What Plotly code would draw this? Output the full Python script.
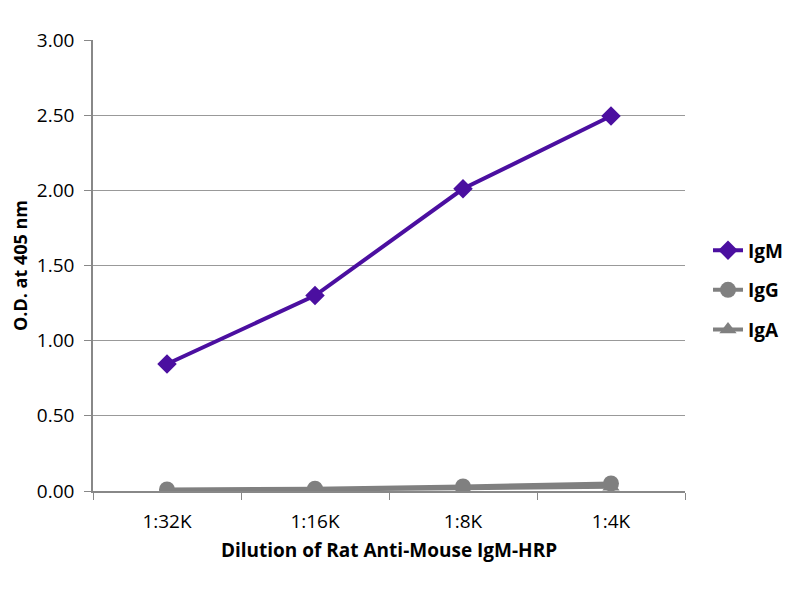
import plotly.graph_objects as go

# dilution categories and O.D. readings
dilutions = ["1:32K", "1:16K", "1:8K", "1:4K"]
igm = [0.845, 1.30, 2.01, 2.495]
igg = [0.01, 0.015, 0.03, 0.05]
iga = [0.002, 0.008, 0.018, 0.028]

purple = "#4b0fa0"
grey = "#808080"

fig = go.Figure()
fig.add_trace(go.Scatter(x=dilutions, y=igm, name="IgM", mode="lines+markers", legendgroup="m",
                         line=dict(color=purple, width=4),
                         marker=dict(symbol="diamond", size=15, color=purple)))
fig.add_trace(go.Scatter(x=dilutions, y=igg, name="IgG", mode="lines+markers", legendgroup="g",
                         line=dict(color=grey, width=4),
                         marker=dict(symbol="circle", size=16, color=grey)))
fig.add_trace(go.Scatter(x=dilutions, y=iga, name="IgA", mode="lines+markers", legendgroup="a",
                         line=dict(color=grey, width=4),
                         marker=dict(symbol="triangle-up", size=15, color=grey)))

# page body adds ~8px offset, so margins are shifted
fig.update_layout(
    width=800, height=600,
    paper_bgcolor="white", plot_bgcolor="white",
    margin=dict(l=85, r=123, t=32, b=117, autoexpand=False),
    font=dict(family="Open Sans", color="black", size=19),
    legend=dict(xref="container", x=0.875, y=0.445, xanchor="left", yanchor="middle",
                font=dict(size=19, family="Open Sans", weight="bold"),
                tracegroupgap=12, itemwidth=30),
    showlegend=True,
)
fig.update_xaxes(
    type="category", range=[-0.5, 3.5], showline=True, linecolor="#888888", linewidth=1.5,
    ticks="outside", tickson="boundaries", ticklen=7, tickcolor="#888888",
    showgrid=False, ticklabelstandoff=12, automargin=False,
    title=dict(text="<b>Dilution of Rat Anti-Mouse IgM-HRP</b>", font=dict(size=19), standoff=11),
)
fig.update_yaxes(
    range=[0, 3.0], tickvals=[0, 0.5, 1.0, 1.5, 2.0, 2.5, 3.0], tickformat=".2f",
    showline=True, linecolor="#888888", linewidth=1.5,
    ticks="outside", ticklen=7, tickcolor="#888888", ticklabelstandoff=6,
    showgrid=True, gridcolor="#999999", gridwidth=1.2, zeroline=False, automargin=False,
    title=dict(text="<b>O.D. at 405 nm</b>", font=dict(size=18), standoff=12),
)

fig.write_html("out.html")
